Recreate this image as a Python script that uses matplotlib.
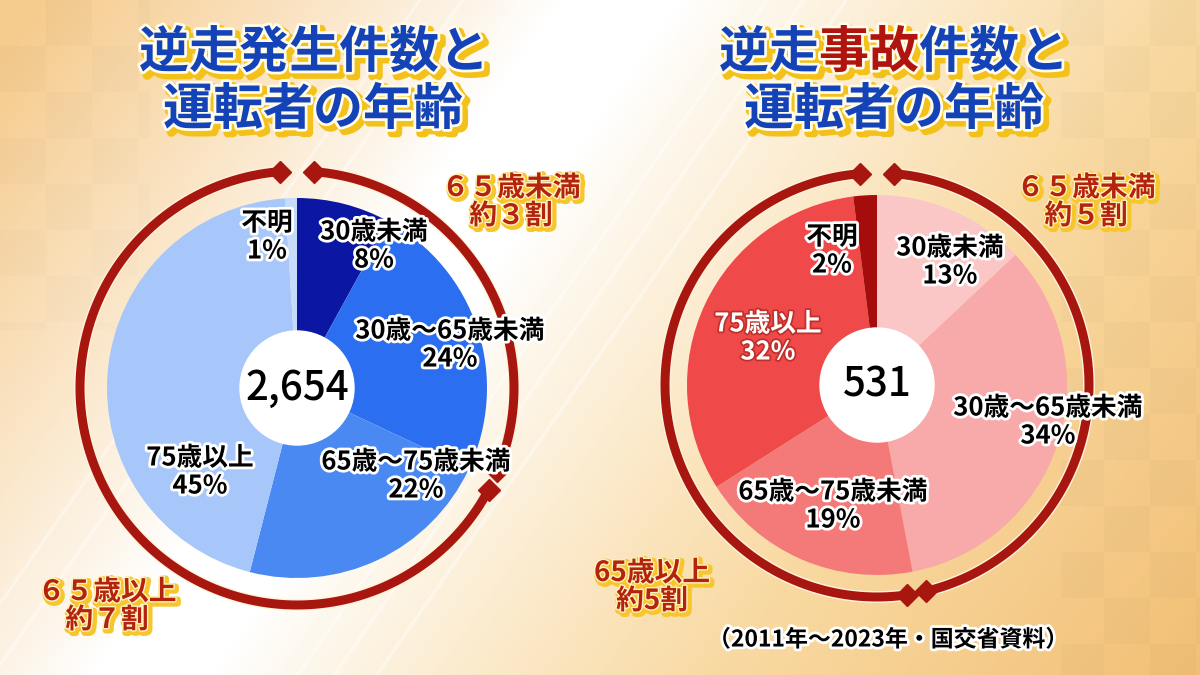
import numpy as np
import matplotlib
matplotlib.use('Agg')
import matplotlib.pyplot as plt
import matplotlib.patheffects as pe
from matplotlib.patches import Circle

plt.rcParams['font.family'] = ['Noto Sans CJK JP', 'DejaVu Sans']

# ---- data ----
categories = ['30歳未満', '30歳～65歳未満', '65歳～75歳未満', '75歳以上', '不明']
occur_pct = [8, 24, 22, 45, 1]          # 逆走発生件数
accident_pct = [13, 34, 19, 32, 2]      # 逆走事故件数
occur_total = '2,654'
accident_total = '531'
under65_text = ['６５歳未満\n約３割', '６５歳未満\n約５割']
over65_text = ['６５歳以上\n約７割', '65歳以上\n約5割']
source_text = '（2011年～2023年・国交省資料）'

# ---- styling ----
W, H = 1200, 675
blue_cols = ['#0b16a2', '#2b6ef0', '#4a89f1', '#a7c7fa', '#c6dafa']
red_cols = ['#fbc6c6', '#f8a9a9', '#f47a7a', '#ef4949', '#a50c0c']
ring_col = '#a8170f'
title_blue = '#1443b8'
title_red = '#b0140f'
group_col = '#b3230e'

fig = plt.figure(figsize=(12, 6.75), dpi=100)
ax = fig.add_axes([0, 0, 1, 1])

# background: warm gradient with a pale diagonal band
yy, xx = np.mgrid[0:H, 0:W].astype(float)
d = (xx - 620) * 0.821 + yy * 0.571
t = np.clip((np.abs(d) - 50) / 420, 0, 1) ** 0.9
left_c = np.array([0.965, 0.80, 0.56])
right_c = np.array([0.975, 0.85, 0.63])
col = np.where((d < 0)[..., None], left_c, right_c)
img = 1 - t[..., None] * (1 - col)
t2 = np.clip((d - 480) / 380, 0, 1)[..., None]
img = img * (1 - t2) + np.array([0.95, 0.75, 0.46]) * t2
sq = (((xx // 46) + (yy // 46)) % 2)
mask = ((xx < 150) & (yy < 330)) | (xx > 1060)
img = img * (1 - (0.02 * sq * mask * t)[..., None])
for k in [120, 150, 185, -130, -165]:
    streak = np.exp(-((d - k) / 1.5) ** 2) * 0.5
    img = img + (1 - img) * streak[..., None]
ax.imshow(np.clip(img, 0, 1), extent=(0, W, 0, H), origin='upper',
          aspect='auto', zorder=0, interpolation='bilinear')


def draw_donut(cx, cy, values, colors, ring_r, total):
    c = (cx, H - cy)
    ax.pie(values, colors=colors, startangle=90, counterclock=False,
           radius=190, center=c, frame=True,
           wedgeprops=dict(linewidth=0, zorder=2))
    ax.add_patch(Circle(c, 57, color='white', zorder=3))
    ax.text(c[0], c[1], total, ha='center', va='center', fontsize=29,
            fontweight='medium', color='black', zorder=6)

    # outer ring split at the 65-year boundary
    cum = np.cumsum(values) / np.sum(values) * 360
    boundary = 90 - cum[1]
    gap_top, gap_mid = 4.6, 2.7
    arcs = [(90 - gap_top, boundary + gap_mid),
            (boundary - gap_mid, -270 + gap_top)]
    for a0, a1 in arcs:
        th = np.radians(np.linspace(a0, a1, 300))
        ax.plot(c[0] + ring_r * np.cos(th), c[1] + ring_r * np.sin(th),
                color=ring_col, lw=6.5, solid_capstyle='butt', zorder=4,
                path_effects=[pe.Stroke(linewidth=8.5, foreground='#fff3dc'),
                              pe.Normal()])
        ends = np.radians([a0, a1])
        ax.plot(c[0] + ring_r * np.cos(ends), c[1] + ring_r * np.sin(ends),
                ls='none', marker='D', ms=11, color=ring_col,
                mec=ring_col, zorder=5)


draw_donut(297, 388, occur_pct, blue_cols, 217, occur_total)
draw_donut(877, 385, accident_pct, red_cols, 212, accident_total)

# slice labels
label_outline = [pe.withStroke(linewidth=4, foreground='white')]
left_pos = [(374, 246), (450, 345), (416, 476), (200, 472), (267, 237)]
right_pos = [(950, 262), (1048, 422), (833, 506), (768, 338), (832, 251)]
for pos_list, vals in [(left_pos, occur_pct), (right_pos, accident_pct)]:
    for i, (name, v) in enumerate(zip(categories, vals)):
        x, y = pos_list[i]
        is_white = (vals is accident_pct and i == 3)
        ax.text(x, H - y, f'{name}\n{v}%', ha='center', va='center',
                multialignment='center', fontsize=18.5, fontweight='bold',
                linespacing=1.05, zorder=7,
                color='white' if is_white else 'black',
                path_effects=[pe.withStroke(linewidth=2.5, foreground='#c0302a')]
                if is_white else label_outline)

# group labels
group_fx = [pe.Stroke(linewidth=5, foreground='#f7c62c', offset=(1.5, -1.5)),
            pe.Stroke(linewidth=2, foreground='#fff2c0'), pe.Normal()]
group_pos = [((511, 202), (107, 606)), ((1086, 202), (652, 587))]
for i in range(2):
    (ux, uy), (ox, oy) = group_pos[i]
    ax.text(ux, H - uy, under65_text[i], ha='center', va='center',
            multialignment='center', fontsize=20, fontweight='bold',
            color=group_col, linespacing=1.0, zorder=7, path_effects=group_fx)
    ax.text(ox, H - oy, over65_text[i], ha='center', va='center',
            multialignment='center', fontsize=20, fontweight='bold',
            color=group_col, linespacing=1.0, zorder=7, path_effects=group_fx)

# titles
title_fx = [pe.Stroke(linewidth=6, foreground='#f3c21a', offset=(3, -3)),
            pe.Stroke(linewidth=4, foreground='#fffbea'), pe.Normal()]
tsize = 36
em = tsize * 100 / 72
ax.text(314, H - 53, '逆走発生件数と', ha='center', va='center', fontsize=tsize,
        fontweight='bold', color=title_blue, zorder=8, path_effects=title_fx)
ax.text(313, H - 110, '運転者の年齢', ha='center', va='center', fontsize=tsize,
        fontweight='bold', color=title_blue, zorder=8, path_effects=title_fx)
# right title line 1 in three coloured pieces (full-width glyphs are 1 em wide)
x0 = 894 - 3.5 * em
for part, start, n, colr in [('逆走', 0, 2, title_blue), ('事故', 2, 2, title_red),
                             ('件数と', 4, 3, title_blue)]:
    ax.text(x0 + (start + n / 2) * em, H - 53, part, ha='center', va='center',
            fontsize=tsize, fontweight='bold', color=colr, zorder=8,
            path_effects=title_fx)
ax.text(894, H - 110, '運転者の年齢', ha='center', va='center', fontsize=tsize,
        fontweight='bold', color=title_blue, zorder=8, path_effects=title_fx)

# source note
ax.text(888, H - 640, source_text, ha='center', va='center', fontsize=16.5,
        fontweight='bold', color='black', zorder=8,
        path_effects=[pe.withStroke(linewidth=4, foreground='white')])

ax.set_xlim(0, W)
ax.set_ylim(0, H)
ax.set_aspect('auto')
ax.axis('off')
fig.savefig('out.png', dpi=100)
